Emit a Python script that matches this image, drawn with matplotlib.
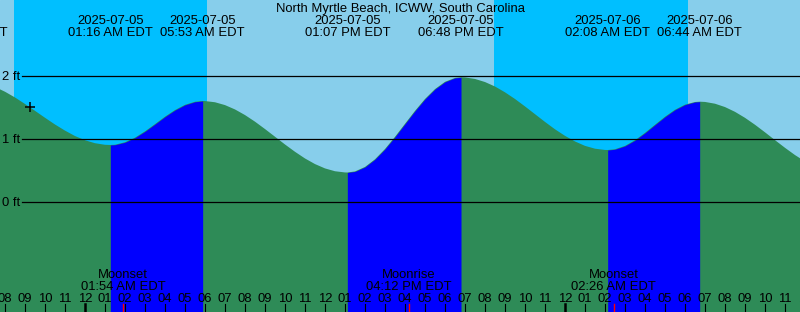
import numpy as np
import matplotlib
matplotlib.use("Agg")
import matplotlib.pyplot as plt

plt.rcParams["font.family"] = ["Liberation Sans", "DejaVu Sans"]

# ── Data (hours since 2025-07-05 00:00 EDT, height in ft) ────────────────────
hours = [
    -4.5, -4.0, -3.5, -3.0, -2.5, -2.0, -1.5, -1.0, -0.5, 0.0, 0.5, 1.0, 1.267,
    1.5, 2.0, 2.5, 3.0, 3.5, 4.0, 4.5, 5.0, 5.5, 5.883,
    6.0, 6.5, 7.0, 7.5, 8.0, 8.5, 9.0, 9.5, 10.0, 10.5, 11.0, 11.5, 12.0, 12.5,
    13.0, 13.117,
    13.5, 14.0, 14.5, 15.0, 15.5, 16.0, 16.5, 17.0, 17.5, 18.0, 18.5, 18.8,
    19.0, 19.5, 20.0, 20.5, 21.0, 21.5, 22.0, 22.5, 23.0, 23.5, 24.0, 24.5,
    25.0, 25.5, 26.0, 26.133,
    26.5, 27.0, 27.5, 28.0, 28.5, 29.0, 29.5, 30.0, 30.5, 30.733,
    31.0, 31.5, 32.0, 32.5, 33.0, 33.5, 34.0, 34.5, 35.0, 35.5, 36.0,
]
feet = [
    1.826, 1.750, 1.659, 1.556, 1.447, 1.337, 1.230, 1.133, 1.047, 0.980, 0.933,
    0.908, 0.905,
    0.909, 0.948, 1.021, 1.121, 1.236, 1.354, 1.459, 1.542, 1.591, 1.603,
    1.602, 1.583, 1.538, 1.469, 1.380, 1.275, 1.158, 1.036, 0.913, 0.797, 0.691,
    0.602, 0.533, 0.488, 0.469, 0.468,
    0.485, 0.556, 0.678, 0.841, 1.034, 1.241, 1.446, 1.635, 1.792, 1.907, 1.969,
    1.979,
    1.977, 1.953, 1.904, 1.833, 1.741, 1.635, 1.517, 1.394, 1.271, 1.154, 1.050,
    0.961, 0.891, 0.846, 0.826, 0.825,
    0.837, 0.890, 0.980, 1.097, 1.226, 1.353, 1.464, 1.545, 1.587, 1.592,
    1.588, 1.560, 1.507, 1.431, 1.336, 1.226, 1.106, 0.982, 0.860, 0.745, 0.644,
]

# tide extremes shown along the top
event_hours = [-6.0, 1.267, 5.883, 13.117, 18.8, 26.133, 30.733]
event_dates = ["2025-07-04", "2025-07-05", "2025-07-05", "2025-07-05",
               "2025-07-05", "2025-07-06", "2025-07-06"]
event_times = ["06:00 PM EDT", "01:16 AM EDT", "05:53 AM EDT", "01:07 PM EDT",
               "06:48 PM EDT", "02:08 AM EDT", "06:44 AM EDT"]

# rising tide (low -> high)
low_hours = [1.267, 13.117, 26.133]
high_hours = [5.883, 18.8, 30.733]

sunset_hours = [-3.55, 20.45]
sunrise_hours = [6.1, 30.135]

moon_hours = [1.9, 16.2, 26.433]
moon_names = ["Moonset", "Moonrise", "Moonset"]
moon_times = ["01:54 AM EDT", "04:12 PM EDT", "02:26 AM EDT"]

now_hour = -2.75
level_lines = [0, 1, 2]
TITLE = "North Myrtle Beach, ICWW, South Carolina"

# ── Style ────────────────────────────────────────────────────────────────────
DAY = "#87CEEB"
NIGHT = "#00BFFF"
EBB = "#2E8B57"
FLOOD = "#0000FF"
FS = 9.4
X0, X1 = -4.25, 35.75
Y0, Y1 = -1.746, 3.206
# ─────────────────────────────────────────────────────────────────────────────

hours = np.array(hours)
feet = np.array(feet)

fig = plt.figure(figsize=(8, 3.12), dpi=100)
ax = fig.add_axes([0, 0, 1, 1])
ax.set_facecolor(DAY)
ax.set_xlim(X0, X1)
ax.set_ylim(Y0, Y1)
ax.axis("off")
ax.add_patch(plt.Rectangle((X0, Y0), X1 - X0, Y1 - Y0, color=DAY, zorder=0))

for s, r in zip(sunset_hours, sunrise_hours):
    ax.axvspan(s, r, color=NIGHT, lw=0, zorder=1)

ax.fill_between(hours, Y0, feet, color=EBB, lw=0, zorder=2)
for lo, hi in zip(low_hours, high_hours):
    m = (hours >= lo) & (hours <= hi)
    ax.fill_between(hours[m], Y0, feet[m], color=FLOOD, lw=0, zorder=3)

# level lines with labels
for lv in level_lines:
    ax.plot([-3.15, X1], [lv, lv], color="black", lw=0.9, zorder=4)
    ax.text(-3.25, lv - 0.059, f"{lv} ft", ha="right", va="baseline",
            fontsize=FS, zorder=5)

# current time marker
ax.plot(now_hour, np.interp(now_hour, hours, feet), marker="+", color="black",
        markersize=7, mew=1.1, zorder=6)

# title and tide event labels
ax.text((X0 + X1) / 2, 3.021, TITLE, ha="center", va="baseline", fontsize=FS)
for h, d, t in zip(event_hours, event_dates, event_times):
    ax.text(h, 2.825, d, ha="center", va="baseline", fontsize=FS)
    ax.text(h, 2.635, t, ha="center", va="baseline", fontsize=FS)

# moon events
for h, n, t in zip(moon_hours, moon_names, moon_times):
    ax.text(h, -1.211, n, ha="center", va="baseline", fontsize=FS, zorder=5)
    ax.text(h, -1.397, t, ha="center", va="baseline", fontsize=FS, zorder=5)
    ax.plot([h, h], [-1.619, Y0], color="red", lw=1.0, zorder=6)

# hour ticks along the bottom
for h in range(-4, 37):
    label = f"{(h % 12) or 12:02d}"
    ax.text(h, -1.583, label, ha="center", va="baseline", fontsize=FS, zorder=5)
    lw = 1.8 if h % 24 == 0 else 0.8
    ax.plot([h, h], [-1.619, Y0], color="black", lw=lw, zorder=5)

fig.savefig("out.png", dpi=100)
